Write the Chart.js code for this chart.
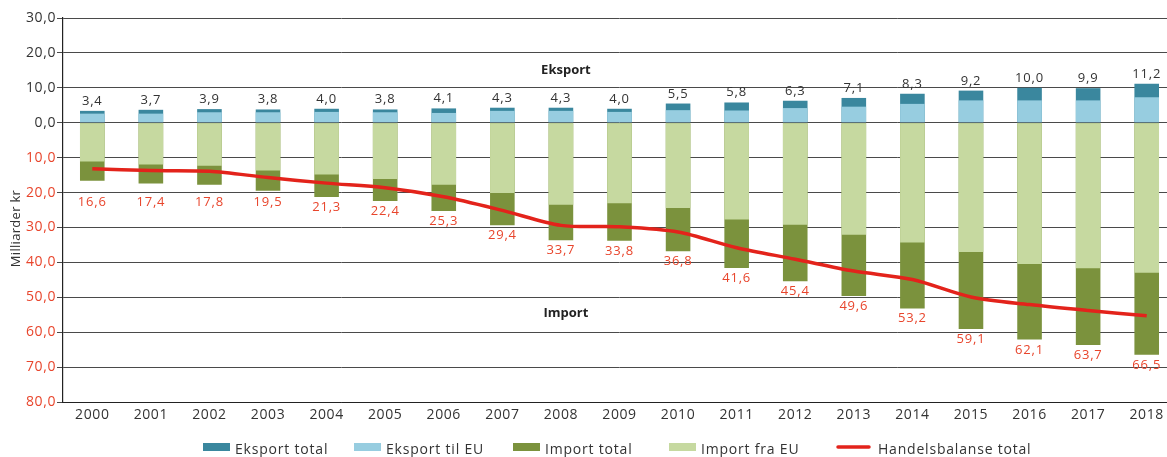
<!DOCTYPE html>
<html><head><meta charset="utf-8">
<script src="https://cdn.jsdelivr.net/npm/chart.js@4/dist/chart.umd.min.js"></script>
<style>
html,body{margin:0;padding:0;overflow:hidden;background:#fff;width:1167px;height:457px}
#wrap{width:1176px;height:457px;position:relative}
</style>
</head><body><div id="wrap"><canvas id="c" width="1176" height="457" style="width:1176px;height:457px"></canvas></div>
<script>
const years = ['2000','2001','2002','2003','2004','2005','2006','2007','2008','2009','2010','2011','2012','2013','2014','2015','2016','2017','2018'];
const eksportTotal = [3.4,3.7,3.9,3.8,4.0,3.8,4.1,4.3,4.3,4.0,5.5,5.8,6.3,7.1,8.3,9.2,10.0,9.9,11.2];
const eksportEU = [2.6,2.6,3.0,3.0,3.1,3.0,2.8,3.4,3.4,3.1,3.6,3.5,4.2,4.6,5.4,6.4,6.4,6.4,7.3];
const importTotal = [16.6,17.4,17.8,19.5,21.3,22.4,25.3,29.4,33.7,33.8,36.8,41.6,45.4,49.6,53.2,59.1,62.1,63.7,66.5];
const importEU = [11.1,12.0,12.3,13.7,14.8,16.1,17.8,20.1,23.5,23.1,24.4,27.7,29.2,32.1,34.3,37.0,40.5,41.7,43.0];
const handelsbalanse = [-13.2,-13.7,-13.9,-15.7,-17.3,-18.6,-21.2,-25.1,-29.4,-29.8,-31.3,-35.8,-39.1,-42.5,-44.9,-49.9,-52.1,-53.8,-55.3];
const yTickValues = [30,20,10,0,-10,-20,-30,-40,-50,-60,-70,-80];
const seriesNames = ['Eksport total','Eksport til EU','Import total','Import fra EU','Handelsbalanse total'];

const C_TEAL = '#3a879e', C_BLUE = '#97cde0', C_OLIVE = '#7b923d', C_LGREEN = '#c6d9a0', C_RED = '#e3231b';
const C_REDTXT = '#e8452c', C_TXT = '#333333';
const FONT = '"Open Sans", "Noto Sans", sans-serif';
const fmt = v => Math.abs(v).toFixed(1).replace('.', ',');

const overlay = {
  id: 'overlay',
  beforeDraw(chart) { chart.ctx.letterSpacing = '0.6px'; },
  afterDatasetsDraw(chart) {
    const ctx = chart.ctx, ys = chart.scales.y, xs = chart.scales.x;
    ctx.save();
    ctx.letterSpacing = '0.8px';
    ctx.font = '13px ' + FONT;
    ctx.textAlign = 'center';
    ctx.textBaseline = 'alphabetic';
    ctx.fillStyle = C_TXT;
    chart.getDatasetMeta(0).data.forEach((bar, i) => {
      ctx.fillText(fmt(eksportTotal[i]), bar.x, bar.y - 6);
    });
    ctx.fillStyle = C_REDTXT;
    const minY = ys.getPixelForValue(-20) + 13;
    chart.getDatasetMeta(2).data.forEach((bar, i) => {
      ctx.fillText(fmt(importTotal[i]), bar.x, Math.max(bar.y + 14, minY));
    });
    ctx.letterSpacing = '0px';
    ctx.font = 'bold 13px ' + FONT;
    ctx.fillStyle = '#222';
    ctx.textBaseline = 'middle';
    const xm = xs.getPixelForValue(8) + 5;
    ctx.fillText('Eksport', xm, ys.getPixelForValue(15));
    ctx.fillText('Import', xm, ys.getPixelForValue(-54.7));
    ctx.restore();
  },
  afterDraw(chart) {
    const ctx = chart.ctx, ys = chart.scales.y;
    ctx.save();
    ctx.font = '13px ' + FONT;
    ctx.letterSpacing = '0.3px';
    ctx.fillStyle = C_TXT;
    ctx.textAlign = 'center';
    ctx.textBaseline = 'middle';
    ctx.translate(16, ys.getPixelForValue(-30.3));
    ctx.rotate(-Math.PI / 2);
    ctx.fillText('Milliarder kr', 0, 0);
    ctx.restore();
    ctx.save();
    ctx.font = '14px ' + FONT;
    ctx.letterSpacing = '0.8px';
    ctx.textBaseline = 'alphabetic';
    ctx.textAlign = 'left';
    const starts = [203, 354, 513, 669, 838];
    chart.data.datasets.forEach((ds, i) => {
      const x0 = starts[i];
      if (ds.type === 'line') {
        ctx.strokeStyle = ds.borderColor;
        ctx.lineWidth = 3.5;
        ctx.lineCap = 'round';
        ctx.beginPath(); ctx.moveTo(x0, 447); ctx.lineTo(x0 + 31, 447); ctx.stroke();
        ctx.fillStyle = C_TXT;
        ctx.fillText(ds.label, x0 + 40, 454);
      } else {
        ctx.fillStyle = ds.backgroundColor;
        ctx.fillRect(x0, 443, 27, 8);
        ctx.fillStyle = C_TXT;
        ctx.fillText(ds.label, x0 + 32, 454);
      }
    });
    ctx.restore();
  }
};

new Chart(document.getElementById('c'), {
  data: {
    labels: years,
    datasets: [
      { type: 'bar', label: seriesNames[0], data: eksportTotal, backgroundColor: C_TEAL, order: 3 },
      { type: 'bar', label: seriesNames[1], data: eksportEU, backgroundColor: C_BLUE, order: 2 },
      { type: 'bar', label: seriesNames[2], data: importTotal.map(v => -v), backgroundColor: C_OLIVE, order: 3 },
      { type: 'bar', label: seriesNames[3], data: importEU.map(v => -v), backgroundColor: C_LGREEN, order: 2 },
      { type: 'line', label: seriesNames[4], data: handelsbalanse, borderColor: C_RED, backgroundColor: C_RED,
        borderWidth: 3.5, pointRadius: 0, tension: 0.3, fill: false, order: 1 }
    ]
  },
  options: {
    responsive: false,
    animation: false,
    devicePixelRatio: 1,
    layout: { padding: { top: 18, right: 0, bottom: 35, left: 0 } },
    datasets: { bar: { barPercentage: 0.42, categoryPercentage: 1 } },
    plugins: { legend: { display: false }, tooltip: { enabled: false } },
    scales: {
      x: {
        stacked: true,
        offset: true,
        grid: { display: false, drawTicks: false },
        border: { display: true, color: '#222', width: 1 },
        ticks: { color: C_TXT, font: { size: 14, family: FONT }, padding: 5, maxRotation: 0, autoSkip: false },
        afterFit: s => { s.height = 20; }
      },
      y: {
        stacked: false,
        min: -80, max: 30,
        afterBuildTicks: s => { s.ticks = yTickValues.map(v => ({ value: v })); },
        grid: { color: '#4a4a4a', lineWidth: 1, tickLength: 6, drawTicks: true },
        border: { display: true, color: '#222', width: 1.2 },
        ticks: {
          padding: 1,
          font: { size: 14, family: FONT },
          color: ctx => (ctx.tick && ctx.tick.value < 0) ? C_REDTXT : C_TXT,
          callback: v => fmt(v)
        },
        afterFit: s => { s.width = 63; }
      }
    }
  },
  plugins: [overlay]
});
</script>
</body></html>
